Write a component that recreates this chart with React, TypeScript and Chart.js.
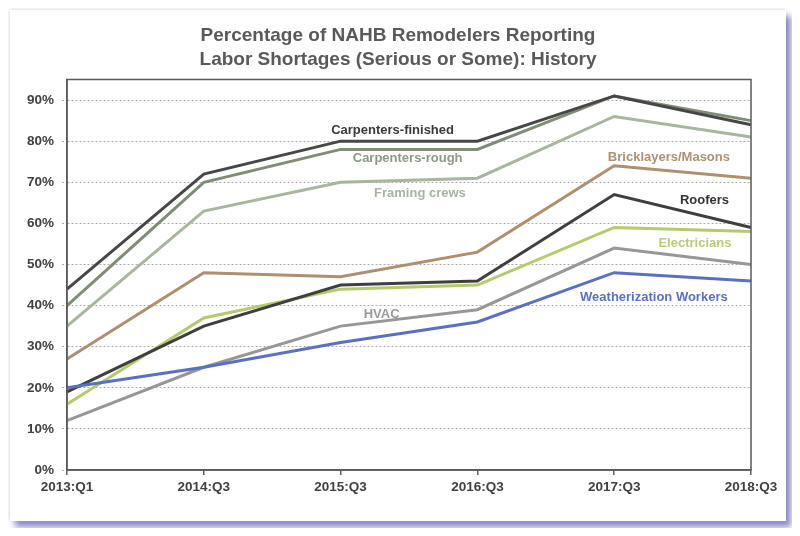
import React, { useEffect, useRef } from "react";
import { Chart, registerables } from "chart.js";

Chart.register(...registerables);

const categories = ["2013:Q1", "2014:Q3", "2015:Q3", "2016:Q3", "2017:Q3", "2018:Q3"];

const carpentersFinished = [44, 72, 80, 80, 91, 84];
const carpentersRough = [40, 70, 78, 78, 91, 85];
const framingCrews = [35, 63, 70, 71, 86, 81];
const bricklayers = [27, 48, 47, 53, 74, 71];
const roofers = [19, 35, 45, 46, 67, 59];
const electricians = [16, 37, 44, 45, 59, 58];
const hvac = [12, 25, 35, 39, 54, 50];
const weatherization = [20, 25, 31, 36, 48, 46];

const yTicks = [0, 10, 20, 30, 40, 50, 60, 70, 80, 90];

const titleLines = [
  "Percentage of NAHB Remodelers Reporting",
  "Labor Shortages (Serious or Some): History",
];

const FONT = "'Liberation Sans', Arial, sans-serif";

// label anchors in data space: [fractional category index, value]
const seriesLabels = [
  { text: "Carpenters-finished", at: [2.38, 82.7], color: "#3a3a3a" },
  { text: "Carpenters-rough", at: [2.49, 75.9], color: "#8d9886" },
  { text: "Framing crews", at: [2.58, 67.4], color: "#a8b3a1" },
  { text: "Bricklayers/Masons", at: [4.40, 76.1], color: "#ae9072" },
  { text: "Roofers", at: [4.66, 65.7], color: "#333333" },
  { text: "Electricians", at: [4.59, 55.2], color: "#b8cc76" },
  { text: "Weatherization Workers", at: [4.29, 42.1], color: "#5a72bf" },
  { text: "HVAC", at: [2.30, 37.9], color: "#9a9a9a" },
];

const framePlugin = {
  id: "frameAndLabels",
  afterDatasetsDraw(chart: any) {
    const { ctx, chartArea, scales } = chart;
    ctx.save();
    ctx.strokeStyle = "#5a5a5a";
    ctx.lineWidth = 1.5;
    ctx.strokeRect(chartArea.left, chartArea.top, chartArea.right - chartArea.left, chartArea.bottom - chartArea.top);
    ctx.font = `bold 13px ${FONT}`;
    ctx.textAlign = "center";
    ctx.textBaseline = "middle";
    for (const l of seriesLabels) {
      const x0 = scales.x.getPixelForValue(Math.floor(l.at[0]));
      const x1 = scales.x.getPixelForValue(Math.ceil(l.at[0]));
      const frac = l.at[0] - Math.floor(l.at[0]);
      const x = x0 + (x1 - x0) * frac;
      const y = scales.y.getPixelForValue(l.at[1]);
      ctx.fillStyle = l.color;
      ctx.fillText(l.text, x, y);
    }
    ctx.restore();
  },
};

export default function App() {
  const ref = useRef<HTMLCanvasElement>(null);
  useEffect(() => {
    const mk = (label: string, data: number[], color: string) => ({
      label,
      data,
      borderColor: color,
      backgroundColor: color,
      borderWidth: 3,
      pointRadius: 0,
      tension: 0,
      fill: false,
    });
    const chart = new Chart(ref.current!, {
      type: "line",
      data: {
        labels: categories,
        datasets: [
          mk("Weatherization Workers", weatherization, "#5a71c0"),
          mk("Roofers", roofers, "#3f3f3f"),
          mk("Carpenters-finished", carpentersFinished, "#474747"),
          mk("Carpenters-rough", carpentersRough, "#7f8d77"),
          mk("Framing crews", framingCrews, "#a8b6a0"),
          mk("Bricklayers/Masons", bricklayers, "#ae906f"),
          mk("Electricians", electricians, "#b3cb6b"),
          mk("HVAC", hvac, "#979797"),
        ],
      },
      options: {
        animation: false,
        responsive: false,
        layout: { padding: { left: 0, right: 0, top: 0, bottom: 0 } },
        plugins: {
          legend: { display: false },
          tooltip: { enabled: false },
          title: {
            display: true,
            text: titleLines,
            color: "#595959",
            font: { family: FONT, size: 19, weight: "bold", lineHeight: 1.25 },
            padding: { top: 14, bottom: 8 },
          },
        },
        scales: {
          x: {
            type: "category",
            offset: false,
            grid: {
              display: true,
              drawOnChartArea: false,
              drawTicks: true,
              tickLength: 5,
              color: "#5a5a5a",
              lineWidth: 1.5,
            },
            border: { display: true, color: "#5a5a5a", width: 1.5 },
            ticks: {
              color: "#404040",
              font: { family: FONT, size: 13.5, weight: "bold" },
              padding: 4,
              maxRotation: 0,
              autoSkip: false,
            },
            afterFit(scale: any) {
              scale.height = 51;
            },
          },
          y: {
            min: 0,
            max: 95,
            grid: {
              color: "#aaaaaa",
              lineWidth: 1,
              tickLength: 5,
              drawTicks: true,
              tickBorderDash: [2, 2],
            },
            border: { display: true, color: "#5a5a5a", width: 1.5, dash: [2, 2] },
            ticks: {
              color: "#404040",
              font: { family: FONT, size: 13.5, weight: "bold" },
              padding: 8,
              stepSize: 10,
              callback: (v: any) => `${v}%`,
            },
            afterBuildTicks(scale: any) {
              scale.ticks = yTicks.map((v) => ({ value: v }));
            },
            afterFit(scale: any) {
              scale.width = 57;
            },
          },
          yRight: {
            position: "right",
            display: true,
            min: 0,
            max: 95,
            grid: { display: false, drawOnChartArea: false },
            border: { display: false },
            ticks: { display: false },
            afterFit(scale: any) {
              scale.width = 35;
            },
          },
        },
      } as any,
      plugins: [framePlugin],
    });
    return () => chart.destroy();
  }, []);

  return (
    <div style={{ position: "relative", width: 784, height: 520 }}>
      <div
        style={{
          position: "absolute",
          left: 2,
          top: 2,
          width: 776,
          height: 511,
          background: "#fff",
          boxShadow: "5px 6px 6px rgba(110,110,185,0.8), -1px -1px 4px rgba(0,0,0,0.12)",
        }}
      >
        <canvas ref={ref} width={776} height={511} style={{ display: "block" }} />
      </div>
    </div>
  );
}
